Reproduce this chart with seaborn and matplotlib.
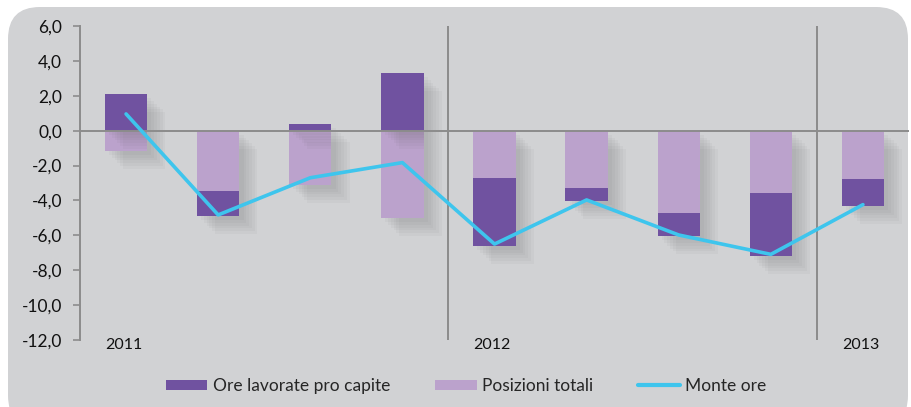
import numpy as np
import pandas as pd
import matplotlib
matplotlib.use('Agg')
import matplotlib.pyplot as plt
import matplotlib.patheffects as pe
from matplotlib.patches import FancyBboxPatch, Patch
from matplotlib.lines import Line2D
from matplotlib.ticker import FuncFormatter
import seaborn as sns

# quarterly data 2011 Q1 - 2013 Q1
quarters = ['2011 T1', '2011 T2', '2011 T3', '2011 T4',
            '2012 T1', '2012 T2', '2012 T3', '2012 T4', '2013 T1']
year_labels = ['2011', '', '', '', '2012', '', '', '', '2013']
ore_pro_capite = [2.1, -1.4, 0.4, 3.3, -3.86, -0.76, -1.3, -3.63, -1.53]
posizioni_totali = [-1.15, -3.48, -3.1, -5.0, -2.73, -3.27, -4.74, -3.55, -2.77]
monte_ore = [0.96, -4.83, -2.7, -1.83, -6.5, -3.97, -5.98, -7.09, -4.24]

dark = '#7052a0'
light = '#bba2cc'
cyan = '#3ec5ed'
grey = '#8c8c8c'
panel = '#d1d2d4'

df = pd.DataFrame({'quarter': quarters, 'ore': ore_pro_capite,
                   'pos': posizioni_totali, 'monte': monte_ore})
# dark segment sits on zero when positive, under the light one when negative
df['ore_bottom'] = np.where(df['ore'] > 0, 0, df['pos'])

sns.set_style('white')
plt.rcParams['font.family'] = ['Lato', 'DejaVu Sans']

fig = plt.figure(figsize=(9.11, 4.07), dpi=100)
fig.patch.set_facecolor('white')
bg = FancyBboxPatch((8 / 911, -0.05), 900 / 911, 1 - 7 / 407 + 0.05,
                    boxstyle='round,pad=0,rounding_size=0.035',
                    transform=fig.transFigure, facecolor=panel,
                    edgecolor='none', zorder=-5, mutation_aspect=911 / 407)
fig.patches.append(bg)

ax = fig.add_axes([80 / 911, 1 - 340 / 407, 829 / 911, 314 / 407])
ax.set_facecolor('none')
ax.set_zorder(2)

# soft drop shadow behind the bars
shadow = [pe.SimplePatchShadow(offset=(o, -o), shadow_rgbFace='#555555', alpha=0.045)
          for o in (3, 5, 7, 9, 11, 13)] + [pe.Normal()]

sns.barplot(data=df, x='quarter', y='pos', color=light, saturation=1,
            width=0.46, ax=ax, zorder=2)
sns.barplot(data=df, x='quarter', y='ore', color=dark, saturation=1,
            width=0.46, bottom=df['ore_bottom'].values, ax=ax, zorder=2)
for p in ax.patches:
    p.set_path_effects(shadow)
    p.set_edgecolor('none')

sns.lineplot(x=np.arange(len(quarters)), y=df['monte'], color=cyan,
             linewidth=2.6, ax=ax, zorder=4)

ax.axhline(0, color=grey, linewidth=1.4, zorder=3)
for xv in (3.5, 7.5):
    ax.axvline(xv, color=grey, linewidth=1.4, zorder=1)

ax.set_xlim(-0.5, 8.5)
ax.set_ylim(-12, 6)
ax.set_yticks(np.arange(-12, 7, 2))
ax.yaxis.set_major_formatter(FuncFormatter(lambda v, _: f'{v:.1f}'.replace('.', ',')))
ax.tick_params(axis='y', length=5, width=1.2, color=grey, pad=8,
               labelsize=12.5, labelcolor='#111111', left=True)
ax.set_xticks([])
ax.set_xlabel('')
ax.set_ylabel('')
for s in ('top', 'right', 'bottom'):
    ax.spines[s].set_visible(False)
ax.spines['left'].set_color(grey)
ax.spines['left'].set_linewidth(1.4)

for i, lab in enumerate(year_labels):
    if lab:
        ax.text(i - 0.23, -12.3, lab, ha='left', va='center',
                fontsize=11.5, color='#111111', clip_on=False)

handles = [Patch(facecolor=dark, edgecolor='none', label='Ore lavorate pro capite'),
           Patch(facecolor=light, edgecolor='none', label='Posizioni totali'),
           Line2D([0], [0], color=cyan, linewidth=3, label='Monte ore')]
fig.legend(handles=handles, loc='center', bbox_to_anchor=(466 / 911, 1 - 386 / 407),
           ncol=3, frameon=False, fontsize=12.5, handlelength=2.4,
           handleheight=0.55, handletextpad=0.3, columnspacing=2.6)

fig.savefig('out.png', dpi=100, facecolor=fig.get_facecolor())
